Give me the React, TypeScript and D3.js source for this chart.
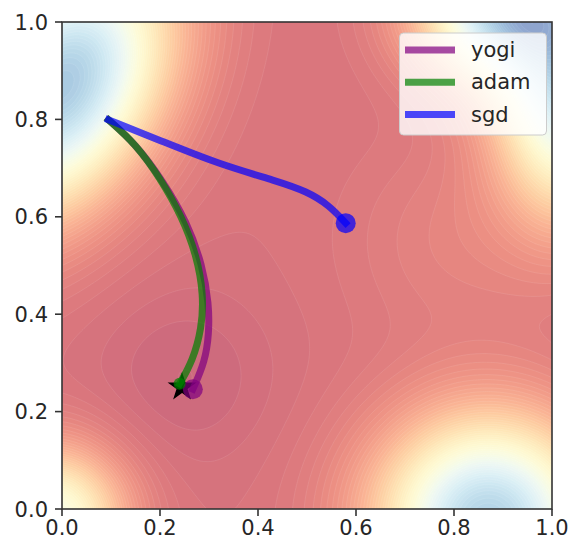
import React from 'react';
import * as d3 from 'd3';

const W = 571;
const H = 540;
const M = { left: 62, right: 552, top: 22, bottom: 509 };

const xTicks = [0, 0.2, 0.4, 0.6, 0.8, 1.0];
const yTicks = [0, 0.2, 0.4, 0.6, 0.8, 1.0];
const tickLabels = ['0.0', '0.2', '0.4', '0.6', '0.8', '1.0'];

// loss surface: base level + bumps [cx, cy, amp, sigmaU, sigmaV, angleDeg]
const baseLevel = 0.05;
const bumps: number[][] = [
  [0.0, 0.87, 0.76, 0.2, 0.13, 60],
  [0.87, -0.02, 0.73, 0.155, 0.145, 0],
  [0.9, 1.03, 0.66, 0.12, 0.1, 0],
  [1.03, 0.85, 0.6, 0.1, 0.17, 0],
  [-0.02, -0.02, 0.5, 0.1, 0.1, 0],
  [0.8, 0.55, 0.05, 0.15, 0.15, 0],
  [0.25, 0.27, -0.038, 0.13, 0.13, 0],
];

const seriesNames = ['yogi', 'adam', 'sgd'];
const seriesColors = ['purple', 'green', 'blue'];
const yogiPath = [[0.095, 0.799], [0.15, 0.75], [0.205, 0.675], [0.255, 0.59], [0.287, 0.5], [0.3, 0.42], [0.3, 0.36], [0.292, 0.303], [0.267, 0.246]];
const adamPath = [[0.095, 0.799], [0.15, 0.75], [0.2, 0.68], [0.245, 0.6], [0.275, 0.52], [0.289, 0.44], [0.285, 0.37], [0.267, 0.305], [0.24, 0.257]];
const sgdPath = [[0.095, 0.799], [0.2, 0.757], [0.32, 0.708], [0.44, 0.673], [0.5, 0.652], [0.545, 0.624], [0.579, 0.587]];
const paths = [yogiPath, adamPath, sgdPath];
const minimum = [0.245, 0.25];

function surface(x: number, y: number) {
  let v = baseLevel;
  for (const [cx, cy, a, su, sv, ang] of bumps) {
    const th = (ang * Math.PI) / 180;
    const dx = x - cx, dy = y - cy;
    const u = dx * Math.cos(th) + dy * Math.sin(th);
    const w = -dx * Math.sin(th) + dy * Math.cos(th);
    v += a * Math.exp(-(u * u) / (2 * su * su) - (w * w) / (2 * sv * sv));
  }
  return v;
}

export default function App() {
  const pw = M.right - M.left;
  const ph = M.bottom - M.top;
  const xs = d3.scaleLinear().domain([0, 1]).range([M.left, M.right]);
  const ys = d3.scaleLinear().domain([0, 1]).range([M.bottom, M.top]);

  const n = 220;
  const values = new Float64Array(n * n);
  for (let j = 0; j < n; j++) {
    const y = 1 - (j + 0.5) / n;
    for (let i = 0; i < n; i++) {
      const x = (i + 0.5) / n;
      values[j * n + i] = surface(x, y);
    }
  }
  const step = 0.0125;
  const levels = d3.range(-0.05, 1.0, step);
  const contours = d3.contours().size([n, n]).thresholds(levels)(values as any);
  const proj = d3.geoTransform({
    point(x: number, y: number) {
      (this as any).stream.point(M.left + (x / n) * pw, M.top + (y / n) * ph);
    },
  });
  const gp = d3.geoPath(proj as any);
  const colorFor = (l: number) => {
    const t = Math.max(0, Math.min(1, l + step / 2));
    const c = d3.rgb(d3.interpolateRdYlBu(t));
    const a = 0.6;
    return d3.rgb(255 + (c.r - 255) * a, 255 + (c.g - 255) * a, 255 + (c.b - 255) * a).formatHex();
  };

  const line = d3
    .line<number[]>()
    .x((d) => xs(d[0]))
    .y((d) => ys(d[1]))
    .curve(d3.curveBasis);

  const star = d3.symbol().type(d3.symbolStar).size(260)() as string;
  const font = 'DejaVu Sans, sans-serif';
  const fs = 21;

  return (
    <svg width={W} height={H} style={{ position: 'absolute', left: 0, top: 0 }} fontFamily={font}>
      <defs>
        <clipPath id="plot">
          <rect x={M.left} y={M.top} width={pw} height={ph} />
        </clipPath>
      </defs>
      <rect width={W} height={H} fill="white" />
      <g clipPath="url(#plot)">
        {contours.map((c, k) => (
          <path key={k} d={gp(c as any) || ''} fill={colorFor(c.value)} stroke="white" strokeOpacity={0.13} strokeWidth={0.7} />
        ))}
        <path d={star} transform={`translate(${xs(minimum[0])},${ys(minimum[1])})`} fill="black" />
        {paths.map((p, k) => (
          <path key={k} d={line(p) || ''} fill="none" stroke={seriesColors[k]} strokeOpacity={0.7} strokeWidth={7} strokeLinecap="square" />
        ))}
        {paths.map((p, k) => {
          const e = p[p.length - 1];
          return <circle key={k} cx={xs(e[0])} cy={ys(e[1])} r={k === 1 ? 6 : 10} fill={seriesColors[k]} fillOpacity={0.7} />;
        })}
      </g>
      <rect x={M.left} y={M.top} width={pw} height={ph} fill="none" stroke="#333" strokeWidth={1.6} />
      {xTicks.map((t, i) => (
        <g key={'x' + i}>
          <line x1={xs(t)} x2={xs(t)} y1={M.bottom} y2={M.bottom + 7} stroke="#333" strokeWidth={1.6} />
          <text x={xs(t)} y={535} textAnchor="middle" fontSize={fs} fill="#262626">{tickLabels[i]}</text>
        </g>
      ))}
      {yTicks.map((t, i) => (
        <g key={'y' + i}>
          <line x1={M.left - 7} x2={M.left} y1={ys(t)} y2={ys(t)} stroke="#333" strokeWidth={1.6} />
          <text x={48} y={ys(t) + 7.6} textAnchor="end" fontSize={fs} fill="#262626">{tickLabels[i]}</text>
        </g>
      ))}
      <g>
        <rect x={399.5} y={33} width={147} height={102} rx={4} fill="white" fillOpacity={0.8} stroke="#cccccc" strokeWidth={1} />
        {seriesNames.map((s, k) => {
          const yy = 50 + k * 32.3;
          return (
            <g key={s}>
              <line x1={405} x2={455} y1={yy} y2={yy} stroke={seriesColors[k]} strokeOpacity={0.7} strokeWidth={7} />
              <text x={471} y={yy + 7} fontSize={fs} fill="#262626">{s}</text>
            </g>
          );
        })}
      </g>
    </svg>
  );
}
